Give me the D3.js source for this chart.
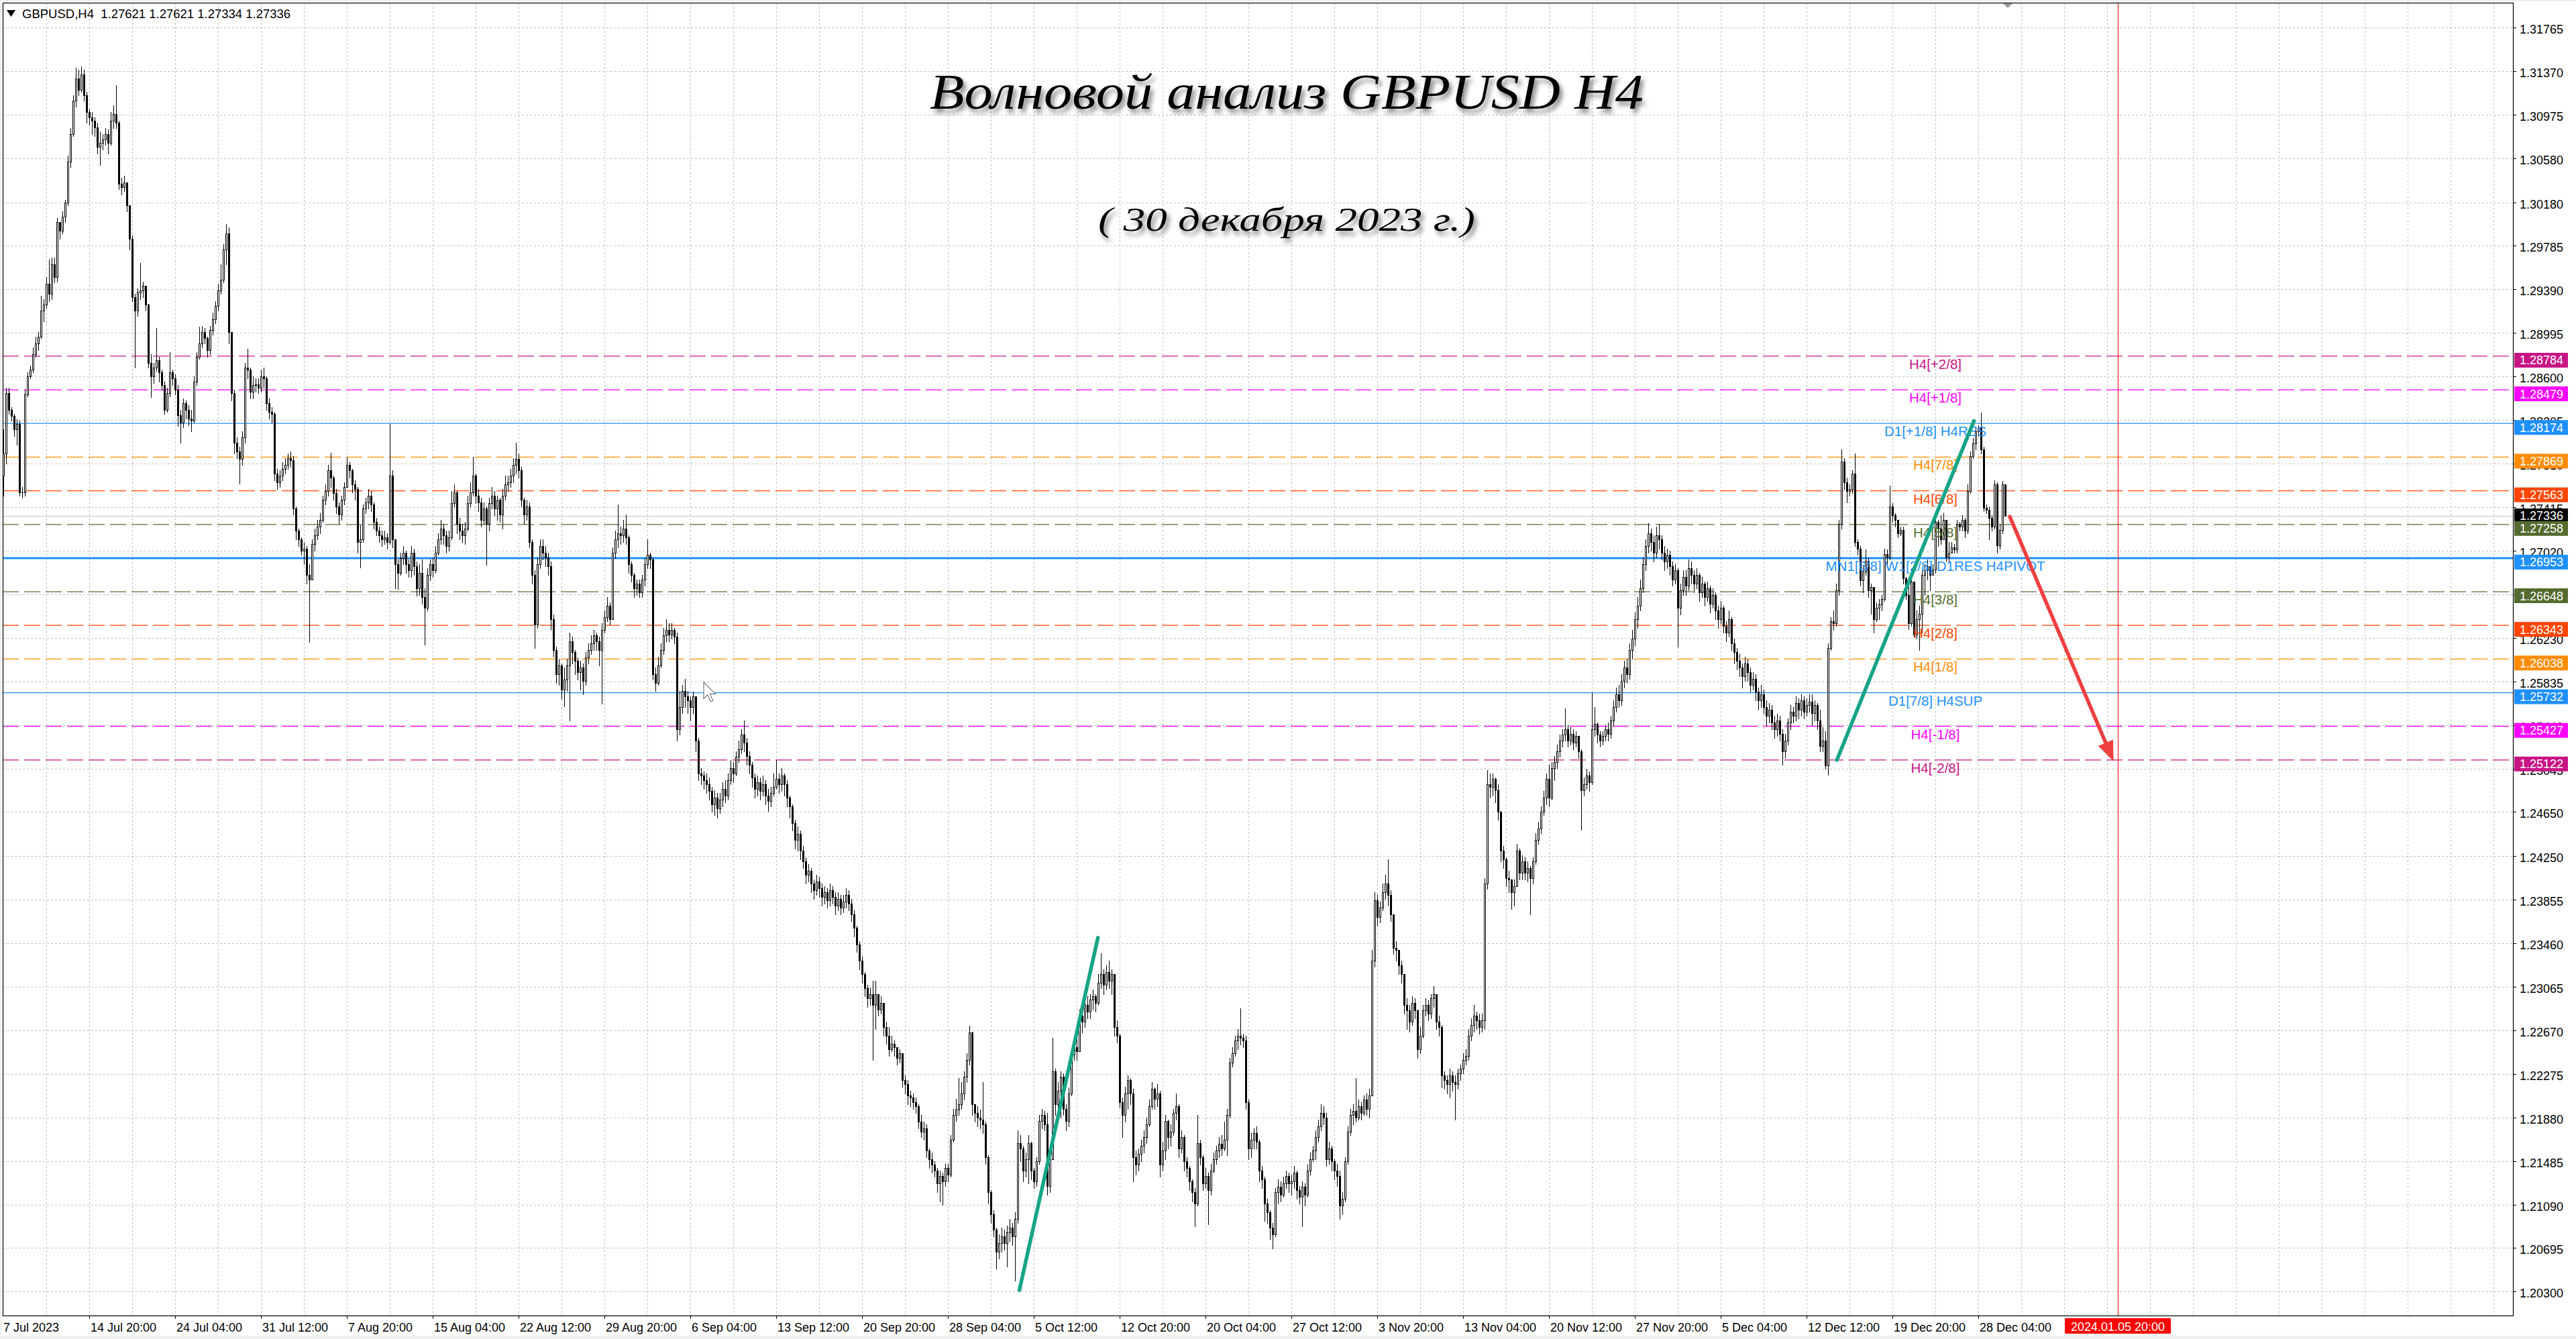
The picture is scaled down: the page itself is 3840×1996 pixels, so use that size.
<!DOCTYPE html>
<html><head><meta charset="utf-8">
<script src="https://cdn.jsdelivr.net/npm/d3@7"></script>
<style>html,body{margin:0;padding:0;background:#fff;}svg{display:block;}</style>
</head><body>
<script>
// ---------- DATA (prices stored as pips above 1.2000) ----------
const BASE = 1.2, PIP = 0.0001;
const symbolHeader = "GBPUSD,H4  1.27621 1.27621 1.27334 1.27336";
const firstOpen = 770;
const closes = [
790,845,830,824,812,817,755,755,844,860,
866,880,890,896,920,925,944,935,962,950,
1000,992,1005,1018,1055,1080,1110,1130,1120,1134,
1115,1100,1095,1092,1086,1068,1072,1075,1080,1072,
1092,1098,1090,1035,1032,1036,1015,985,932,920,
936,938,942,925,872,860,868,875,864,852,
830,845,864,858,848,825,818,836,830,822,
820,855,878,890,900,895,884,902,912,924,
938,948,975,990,900,845,800,792,785,805,
868,866,846,852,853,850,860,858,836,828,
826,772,764,770,776,780,786,784,740,720,
712,702,704,680,676,708,716,724,730,748,
756,775,768,754,742,735,748,760,780,775,
762,758,710,712,740,746,752,744,728,720,
716,712,714,710,770,712,690,682,695,700,
690,684,700,688,668,682,660,650,680,690,
684,700,712,722,716,706,714,745,755,726,
720,716,722,745,755,770,752,746,730,740,
726,745,752,740,748,735,752,762,764,770,
780,785,775,748,735,742,710,680,635,690,
706,700,696,688,640,612,590,598,576,585,
598,620,610,602,592,596,584,605,612,618,
625,620,612,630,642,652,640,700,712,718,
716,722,714,690,680,668,672,664,676,690,
698,694,590,582,598,612,625,630,626,630,
624,540,560,575,570,566,560,570,530,500,
498,494,490,484,472,478,468,476,486,480,
494,505,500,515,522,535,528,516,508,496,
486,492,484,490,480,475,482,488,495,490,
498,490,478,470,455,440,445,430,420,408,
412,400,394,402,396,388,392,385,394,388,
380,386,378,384,390,382,372,360,345,330,
318,305,296,300,290,300,286,292,270,262,
250,255,252,242,246,222,218,208,206,202,
198,184,175,178,158,150,145,140,128,135,
130,142,136,168,190,195,200,210,225,240,
265,200,192,188,186,182,152,120,100,86,
66,74,80,74,84,88,80,96,165,160,
140,150,165,140,130,148,185,190,182,126,
150,230,200,212,225,196,185,210,245,252,
248,280,275,290,284,295,298,292,310,318,
308,320,312,318,270,262,202,190,210,222,
210,152,145,155,162,170,182,198,214,205,
210,145,158,185,170,175,192,198,160,170,
148,142,130,120,110,165,152,128,135,122,
140,150,158,164,160,168,190,238,246,258,
262,260,258,202,160,168,174,166,140,132,
110,102,88,82,120,125,118,128,135,128,
130,138,122,116,125,118,140,150,158,170,
180,192,188,150,160,148,140,135,108,114,
148,175,190,194,188,198,192,204,196,208,
330,385,370,378,392,400,390,372,342,340,
326,318,290,285,275,292,285,250,262,285,
290,282,296,300,275,270,226,222,218,226,
220,218,228,232,240,244,262,272,280,276,
270,276,400,490,488,495,485,465,430,422,
405,404,392,398,430,410,420,410,414,405,
420,440,450,465,478,495,478,505,510,520,
530,535,540,530,536,528,534,520,485,490,
498,492,540,545,535,530,534,540,536,548,
560,572,566,584,596,590,612,622,640,652,
668,690,706,718,710,700,716,712,700,692,
698,688,676,684,650,666,678,670,686,680,
672,680,664,672,660,668,654,662,648,640,
650,634,628,640,618,610,602,596,588,600,
592,580,586,574,566,572,560,552,558,546,
540,548,536,520,530,546,556,552,564,558,
566,556,562,565,555,562,548,525,530,507,
614,638,636,666,726,783,764,756,758,772,
710,704,675,683,693,666,669,640,650,653,
658,699,696,742,734,730,718,721,677,662,
636,674,626,640,645,680,684,688,680,685,
728,722,712,730,696,700,705,703,726,724,
730,720,756,788,799,810,813,794,741,739,
732,724,762,707,721,762,733.6];
const highs = [
812,850,850,832,826,821,820,760,848,864,
870,886,896,900,933,930,950,966,968,968,
1004,1000,1010,1020,1060,1085,1115,1140,1138,1141,
1138,1118,1102,1100,1095,1090,1082,1080,1085,1084,
1100,1106,1124,1092,1040,1042,1036,1015,988,935,
940,963,946,942,926,880,872,904,878,866,
856,850,882,866,862,852,830,840,838,834,
830,860,882,905,906,904,896,906,918,928,
944,962,980,998,995,898,848,805,796,810,
872,885,868,860,858,858,866,868,860,840,
832,828,776,775,782,786,790,792,788,742,
722,714,710,706,690,712,722,730,736,752,
762,780,791,770,758,746,752,764,787,782,
776,766,760,725,744,750,758,756,746,732,
724,720,720,718,817,775,712,694,700,706,
702,694,706,704,692,690,694,668,686,694,
696,706,718,730,726,720,720,756,762,756,
732,726,728,752,764,787,772,758,750,746,
742,750,760,756,752,750,758,770,770,776,
786,800,790,778,750,748,746,712,684,696,
712,712,706,700,692,644,615,604,600,596,
604,628,624,612,605,602,600,610,618,625,
630,628,624,636,648,660,655,705,720,744,
724,730,735,716,692,682,676,676,680,696,
712,700,696,596,606,618,632,640,636,636,
632,628,575,580,586,575,570,574,570,532,
505,502,500,496,488,485,482,482,492,494,
500,512,510,520,530,540,548,532,520,510,
500,498,496,498,494,486,488,500,512,500,
505,500,494,480,472,458,452,448,434,424,
418,414,404,408,406,400,398,396,400,398,
392,392,390,390,396,394,386,376,362,348,
334,320,308,306,312,312,300,298,292,275,
270,262,258,252,250,246,226,222,212,210,
206,200,190,184,182,160,156,148,142,140,
138,146,146,172,196,205,224,220,230,246,
271,266,200,198,195,220,184,154,122,104,
88,82,88,86,90,96,92,102,176,172,
162,156,172,166,142,152,190,196,194,192,
156,260,232,220,230,228,200,215,250,258,
260,286,290,296,298,300,304,300,318,337,
322,326,330,322,318,276,264,206,216,226,
224,214,158,160,168,176,188,204,220,215,
218,212,166,190,186,182,196,210,200,176,
172,152,144,132,124,190,168,154,142,138,
146,156,162,170,172,184,196,242,252,262,
268,287,264,262,204,174,178,180,168,144,
134,114,104,92,124,132,130,134,140,138,
136,144,140,126,130,128,145,156,162,176,
186,200,198,192,166,162,150,146,140,120,
152,180,196,200,224,204,202,208,210,214,
340,392,390,384,400,408,422,394,372,348,
340,330,318,296,290,298,296,286,270,290,
296,294,300,307,298,280,272,230,226,232,
230,226,232,236,246,250,268,278,290,284,
282,282,405,503,500,500,496,490,466,434,
424,412,404,404,436,432,426,424,420,416,
424,446,456,470,484,500,508,510,516,526,
535,540,559,544,542,540,538,534,522,496,
504,502,573,560,546,538,538,544,546,552,
566,578,580,590,602,604,618,630,646,660,
676,696,712,727,722,716,724,726,716,706,
704,702,692,690,686,672,684,684,694,692,
684,686,682,678,674,674,670,668,664,652,
656,652,638,648,642,622,614,608,600,606,
604,596,592,590,578,580,576,566,564,562,
552,554,552,540,536,550,562,560,570,568,
572,570,568,572,572,566,564,558,542,538,
618,642,648,672,730,794,786,768,762,775,
790,712,706,688,703,696,672,668,655,658,
662,704,703,761,745,736,730,724,724,678,
669,678,672,648,652,684,690,694,688,690,
734,730,734,736,730,710,710,708,730,728,
734,732,762,792,804,814,816,827,796,744,
742,734,766,764,726,765,762.1];
const lows = [
752,781,826,820,806,798,752,750,752,842,
858,864,878,884,895,910,922,928,930,945,
946,985,990,1000,1015,1050,1078,1105,1115,1118,
1110,1090,1088,1080,1078,1062,1052,1066,1070,1062,
1070,1085,1085,1030,1025,1028,1010,975,928,868,
915,930,932,920,868,841,854,865,855,848,
826,828,842,852,844,815,800,814,822,816,
810,818,852,876,886,890,878,880,898,908,
920,935,945,962,890,838,790,786,763,780,
800,858,840,840,846,845,846,850,830,822,
818,766,758,760,766,772,776,778,735,712,
706,698,690,672,619,676,702,712,718,728,
744,752,760,748,736,726,730,744,760,768,
755,748,700,687,710,736,740,738,722,716,
710,706,708,704,708,705,668,667,680,690,
682,678,678,680,661,662,654,617,648,675,
678,682,698,708,708,700,702,712,742,718,
712,710,708,720,742,752,745,738,724,726,
689,720,740,734,730,728,722,748,756,760,
764,772,768,742,726,730,705,672,614,632,
686,694,688,680,630,606,582,580,568,561,
575,548,600,590,585,576,572,580,600,608,
612,612,598,563,628,638,635,640,695,705,
708,710,708,682,674,660,662,660,660,670,
686,686,585,575,580,596,608,620,620,622,
618,530,535,555,560,555,548,554,520,494,
490,486,482,476,465,462,460,464,470,474,
476,490,492,498,510,518,520,508,500,488,
478,480,476,480,472,466,470,480,486,482,
484,480,470,460,448,432,430,422,414,400,
402,392,386,390,388,380,382,378,380,382,
372,376,372,374,378,376,366,352,338,322,
310,298,288,290,240,268,280,282,262,255,
244,248,244,236,238,216,210,200,198,196,
192,178,170,168,152,142,138,134,120,112,
109,126,130,134,166,185,190,196,204,220,
236,190,184,180,178,174,146,110,92,80,
51,60,66,68,53,76,72,40,92,148,
130,134,128,132,124,126,146,178,176,118,
120,150,190,196,188,190,176,180,208,240,
240,248,265,270,278,278,286,284,290,305,
300,304,305,300,262,256,197,170,184,196,
200,130,136,140,148,156,165,180,196,196,
198,134,140,150,160,162,172,186,152,156,
140,134,122,112,89,108,145,122,124,91,
118,138,146,152,154,158,154,188,234,244,
250,254,252,196,150,152,160,160,130,124,
94,92,78,69,80,110,112,116,124,120,
118,124,114,110,89,108,116,136,148,150,
166,176,182,144,146,140,132,126,96,100,
112,146,172,182,184,186,186,190,190,188,
212,325,362,365,376,386,380,366,336,330,
318,310,282,268,266,272,278,242,246,260,
280,276,278,288,268,262,215,214,210,206,
212,186,214,222,228,236,240,258,266,268,
264,266,268,395,478,480,474,458,420,414,
398,392,377,380,398,404,404,404,402,372,
400,418,436,446,462,472,470,476,494,505,
515,524,530,524,526,522,524,514,449,480,
486,484,490,534,528,524,526,530,530,532,
544,556,560,562,578,582,586,604,616,632,
648,664,684,700,702,692,696,704,694,684,
686,680,670,672,615,644,662,662,666,672,
664,668,656,660,652,656,646,650,640,632,
636,628,620,624,612,600,594,588,578,584,
584,574,576,566,558,560,554,544,546,540,
532,534,530,508,514,526,540,546,548,550,
552,550,552,556,544,548,540,520,520,504,
499,612,630,634,662,722,758,746,752,754,
706,698,670,664,680,660,645,628,638,640,
648,656,690,694,728,724,714,716,672,658,
631,634,624,622,612,628,662,676,666,680,
682,706,708,712,692,692,700,700,700,720,
720,714,718,754,786,794,806,790,738,736,
712,720,722,700,704,718,733.4];

const priceTicks = [1.31765,1.31370,1.30975,1.30580,1.30180,1.29785,1.29390,1.28995,1.28600,1.28205,
  1.27810,1.27415,1.27020,1.26625,1.26230,1.25835,1.25440,1.25045,1.24650,1.24250,
  1.23855,1.23460,1.23065,1.22670,1.22275,1.21880,1.21485,1.21090,1.20695,1.20300];
const timeLabels = ["7 Jul 2023","14 Jul 20:00","24 Jul 04:00","31 Jul 12:00","7 Aug 20:00","15 Aug 04:00",
  "22 Aug 12:00","29 Aug 20:00","6 Sep 04:00","13 Sep 12:00","20 Sep 20:00","28 Sep 04:00","5 Oct 12:00",
  "12 Oct 20:00","20 Oct 04:00","27 Oct 12:00","3 Nov 20:00","13 Nov 04:00","20 Nov 12:00","27 Nov 20:00",
  "5 Dec 04:00","12 Dec 12:00","19 Dec 20:00","28 Dec 04:00"];
const barsPerTimeLabel = 32;
const levelPrices = [1.28784,1.28479,1.28174,1.27869,1.27563,1.27258,1.26953,1.26648,1.26343,1.26038,1.25732,1.25427,1.25122];
const levelNames  = ["H4[+2/8]","H4[+1/8]","D1[+1/8] H4RES","H4[7/8]","H4[6/8]","H4[5/8]",
  "MN1[6/8] W1[2/8] D1RES H4PIVOT","H4[3/8]","H4[2/8]","H4[1/8]","D1[7/8] H4SUP","H4[-1/8]","H4[-2/8]"];
const currentPrice = 1.27336;
const futureLabel = "2024.01.05 20:00";
const futureBar = 788;
const labelBar = 720;
const waveLines = [ [[378.65,1.20314],[407.9,1.23510]], [[683.3,1.25121],[734.4,1.28198]] ];
const forecastArrow = [[747.75,1.27329],[786.4,1.25110]];
const cursorAt = [261, 1.25827];
const titleText = "Волновой анализ GBPUSD H4";
const subtitleText = "( 30 декабря 2023 г.)";

// ---------- STYLES ----------
const levelColors = ["#C71585","#FF00FF","#1E90FF","#FF8C00","#FF4500","#556B2F","#1E90FF","#556B2F","#FF4500","#FF8C00","#1E90FF","#FF00FF","#C71585"];
const levelKinds  = ["dash","dash","solid","dash","dash","dash","thick","dash","dash","dash","solid","dash","dash"];

const W = 3840, H = 1996;
const plot = {left:4, right:3746, top:4, bottom:1961};
const nBars = closes.length;
const x = d3.scaleLinear().domain([0, 746]).range([5, 2989]);
const y = d3.scaleLinear().domain([1.20300, 1.31765]).range([1925.4, 41]);
const px = v => BASE + v * PIP;

const svg = d3.select("body").append("svg").attr("width", W).attr("height", H)
  .attr("font-family", "'Liberation Sans', Arial, sans-serif");

const defs = svg.append("defs");
defs.append("clipPath").attr("id","plotclip").append("rect")
  .attr("x",plot.left).attr("y",plot.top).attr("width",plot.right-plot.left).attr("height",plot.bottom-plot.top);
const f = defs.append("filter").attr("id","shadow").attr("x","-5%").attr("y","-20%").attr("width","115%").attr("height","160%");
f.append("feDropShadow").attr("dx",4).attr("dy",6).attr("stdDeviation",3.5).attr("flood-color","#000").attr("flood-opacity",0.5);

svg.append("rect").attr("width",W).attr("height",H).attr("fill","#f0f0f0");
svg.append("rect").attr("x",2).attr("y",2).attr("width",W-2).attr("height",H-7).attr("fill","#fff");

const g = svg.append("g").attr("clip-path","url(#plotclip)");

// grid
const vGrid = d3.range(16, 940, 16);
g.append("g").selectAll("line").data(vGrid).join("line")
  .attr("x1",d=>Math.round(x(d))+0.5).attr("x2",d=>Math.round(x(d))+0.5)
  .attr("y1",plot.top).attr("y2",plot.bottom)
  .attr("stroke","#c0c0c0").attr("stroke-dasharray","3,3").attr("stroke-width",1);
g.append("g").selectAll("line").data(priceTicks).join("line")
  .attr("x1",plot.left).attr("x2",plot.right)
  .attr("y1",d=>Math.round(y(d))+0.5).attr("y2",d=>Math.round(y(d))+0.5)
  .attr("stroke","#c0c0c0").attr("stroke-dasharray","3,3").attr("stroke-width",1);

// level lines
const lv = levelPrices.map((p,i)=>({p, name:levelNames[i], color:levelColors[i], kind:levelKinds[i]}));
g.append("g").selectAll("line").data(lv).join("line")
  .attr("x1",plot.left).attr("x2",plot.right)
  .attr("y1",d=>y(d.p)).attr("y2",d=>y(d.p))
  .attr("stroke",d=>d.color)
  .attr("stroke-width",d=>d.kind==="thick"?3:1.3)
  .attr("stroke-dasharray",d=>d.kind==="dash"?"24,8":null);
// current price line
g.append("line").attr("x1",plot.left).attr("x2",plot.right)
  .attr("y1",Math.round(y(currentPrice))+0.5).attr("y2",Math.round(y(currentPrice))+0.5)
  .attr("stroke","#c0c0c0").attr("stroke-width",1);

// future vertical line
g.append("line").attr("x1",Math.round(x(futureBar))+0.5).attr("x2",Math.round(x(futureBar))+0.5)
  .attr("y1",plot.top).attr("y2",plot.bottom).attr("stroke","#ff0000").attr("stroke-width",1);

// candles
const bars = closes.map((c,i)=>({i, o: i===0?firstOpen:closes[i-1], c, h: highs[i], l: lows[i]}));
const cg = g.append("g").attr("shape-rendering","crispEdges");
cg.selectAll("line").data(bars).join("line")
  .attr("x1",d=>Math.round(x(d.i))+0.5).attr("x2",d=>Math.round(x(d.i))+0.5)
  .attr("y1",d=>Math.round(y(px(d.h)))).attr("y2",d=>Math.round(y(px(d.l)))+1)
  .attr("stroke","#000").attr("stroke-width",1);
cg.selectAll("rect").data(bars).join("rect")
  .each(function(d){
    const xc = Math.round(x(d.i));
    const yt = Math.round(y(px(Math.max(d.o,d.c))));
    const yb = Math.round(y(px(Math.min(d.o,d.c))));
    const sel = d3.select(this);
    if (d.c > d.o) {
      sel.attr("x",xc-0.5).attr("y",yt+0.5).attr("width",2).attr("height",Math.max(1,yb-yt))
        .attr("fill","#fff").attr("stroke","#000").attr("stroke-width",1);
    } else {
      sel.attr("x",xc-1).attr("y",yt).attr("width",3).attr("height",Math.max(1,yb-yt+1))
        .attr("fill","#000");
    }
  });

// level labels
g.append("g").selectAll("text").data(lv).join("text")
  .attr("x",x(labelBar)).attr("y",d=>y(d.p)+19)
  .attr("text-anchor","middle").attr("font-size",20.5).attr("fill",d=>d.color)
  .text(d=>d.name);

// wave lines
const lineGen = d3.line().x(d=>x(d[0])).y(d=>y(d[1]));
g.append("g").selectAll("path").data(waveLines).join("path")
  .attr("d",lineGen).attr("stroke","#16A487").attr("stroke-width",5.5)
  .attr("stroke-linecap","round").attr("fill","none");

// forecast arrow
{
  const [a,b] = forecastArrow;
  const x1=x(a[0]), y1=y(a[1]), x2=x(b[0]), y2=y(b[1]);
  const ang = Math.atan2(y2-y1, x2-x1), L=30, Wd=12;
  const bx = x2 - L*Math.cos(ang), by = y2 - L*Math.sin(ang);
  g.append("line").attr("x1",x1).attr("y1",y1).attr("x2",bx).attr("y2",by)
    .attr("stroke","#EE4040").attr("stroke-width",5.5).attr("stroke-linecap","round");
  const nx = -Math.sin(ang), ny = Math.cos(ang);
  g.append("path").attr("d",`M${x2},${y2}L${bx+nx*Wd},${by+ny*Wd}L${bx-nx*Wd},${by-ny*Wd}Z`)
    .attr("fill","#EE4040");
}

// mouse cursor
{
  const cx = x(cursorAt[0]), cy = y(cursorAt[1]), s = 1.45;
  const pts = [[0,0],[0,17],[4,13],[7,20],[9.5,19],[6.5,12],[12,12]].map(p=>[cx+p[0]*s, cy+p[1]*s]);
  g.append("path").attr("d","M"+pts.map(p=>p.join(",")).join("L")+"Z")
    .attr("fill","#fff").attr("stroke","#777").attr("stroke-width",1.2);
}

// plot frame
svg.append("rect").attr("x",plot.left+0.5).attr("y",plot.top+0.5)
  .attr("width",plot.right-plot.left).attr("height",plot.bottom-plot.top)
  .attr("fill","none").attr("stroke","#000").attr("stroke-width",1.2);

// shift marker at top
{
  const mx = x(nBars-1)+4;
  svg.append("path").attr("d",`M${mx-7},${plot.top+1}L${mx+7},${plot.top+1}L${mx},${plot.top+8}Z`).attr("fill","#9a9a9a");
}

// right axis
const fmt = d3.format(".5f");
svg.append("g").selectAll("line").data(priceTicks).join("line")
  .attr("x1",plot.right).attr("x2",plot.right+5)
  .attr("y1",d=>Math.round(y(d))+0.5).attr("y2",d=>Math.round(y(d))+0.5).attr("stroke","#000");
svg.append("g").selectAll("text").data(priceTicks).join("text")
  .attr("x",plot.right+10).attr("y",d=>y(d)+3).attr("dominant-baseline","central")
  .attr("font-size",18).attr("fill","#000").text(d=>fmt(d));

// colored price boxes
const boxes = lv.map(d=>({p:d.p, color:d.color, shift:0}));
boxes.splice(5,0,{p:currentPrice,color:"#000",shift:-6});
const bg = svg.append("g");
boxes.forEach(b=>{
  const yy = y(b.p) + b.shift;
  bg.append("rect").attr("x",plot.right+2).attr("y",yy-5).attr("width",80).attr("height",22).attr("fill",b.color);
  bg.append("text").attr("x",plot.right+10).attr("y",yy+6.5).attr("dominant-baseline","central")
    .attr("font-size",18).attr("fill","#fff").text(fmt(b.p));
});

// bottom axis
const tl = timeLabels.map((t,k)=>({t, i:k*barsPerTimeLabel}));
svg.append("g").selectAll("line").data(tl.slice(1)).join("line")
  .attr("x1",d=>Math.round(x(d.i))+0.5).attr("x2",d=>Math.round(x(d.i))+0.5)
  .attr("y1",plot.bottom).attr("y2",plot.bottom+5).attr("stroke","#000");
svg.append("g").selectAll("text").data(tl).join("text")
  .attr("x",d=>x(d.i)+(d.i===0?0:2)).attr("y",1985)
  .attr("font-size",18).attr("fill","#000").text(d=>d.t);
{
  const fx = x(futureBar);
  svg.append("rect").attr("x",fx-79).attr("y",1965).attr("width",158).attr("height",23).attr("fill","#ff0000");
  svg.append("text").attr("x",fx).attr("y",1984).attr("text-anchor","middle")
    .attr("font-size",18).attr("fill","#fff").text(futureLabel);
}

// header
svg.append("path").attr("d","M10,15L23,15L16.5,25Z").attr("fill","#000");
svg.append("text").attr("x",33).attr("y",27).attr("font-size",18.5).attr("fill","#000")
  .style("white-space","pre").text(symbolHeader);

// title & subtitle
svg.append("text").attr("x",1918).attr("y",162).attr("text-anchor","middle")
  .attr("font-family","'Liberation Serif','DejaVu Serif',serif").attr("font-style","italic")
  .attr("font-size",74).attr("textLength",1064).attr("lengthAdjust","spacingAndGlyphs")
  .attr("fill","#000").attr("filter","url(#shadow)").text(titleText);
svg.append("text").attr("x",1918).attr("y",344).attr("text-anchor","middle")
  .attr("font-family","'Liberation Serif','DejaVu Serif',serif").attr("font-style","italic")
  .attr("font-size",50).attr("textLength",562).attr("lengthAdjust","spacingAndGlyphs")
  .attr("fill","#000").attr("filter","url(#shadow)").text(subtitleText);
</script>
</body></html>
